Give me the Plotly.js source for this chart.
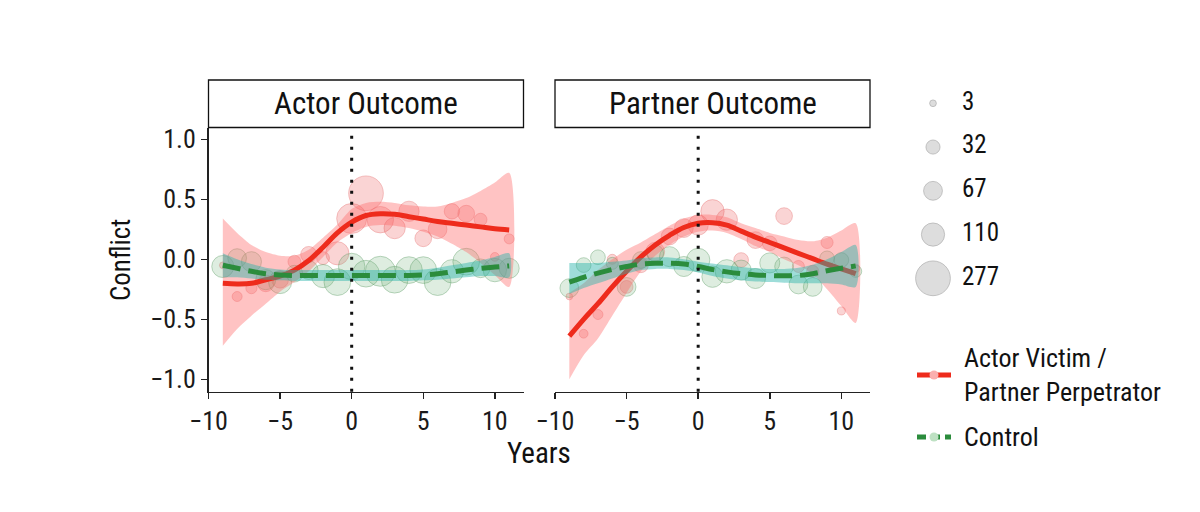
<!DOCTYPE html>
<html>
<head>
<meta charset="utf-8">
<script src="https://cdn.plot.ly/plotly-3.0.1.min.js"></script>
<style>
  html, body { margin: 0; padding: 0; background: #fff; }
  #chart { width: 1200px; height: 512px; }
</style>
</head>
<body>
<div id="chart"></div>
<script>
// years relative to the event
const years = [-9, -8, -7, -6, -5, -4, -3, -2, -1, 0, 1, 2, 3, 4, 5, 6, 7, 8, 9, 10, 11];

// Actor outcome: yearly means (bubbles) and n per year
const actorVictimMean = [-0.05, -0.31, -0.24, -0.2, -0.17, -0.02, 0.04, 0.01, 0.05, 0.34, 0.55, 0.33, 0.26, 0.4, 0.175, 0.25, 0.4, 0.38, 0.33, 0.02, 0.17];
const actorVictimN = [3, 12, 17, 50, 50, 25, 45, 25, 110, 200, 277, 150, 90, 80, 50, 66, 40, 50, 25, 8, 12];
const actorControlMean = [-0.06, 0.01, -0.02, -0.17, -0.19, -0.12, -0.09, -0.14, -0.19, -0.06, -0.12, -0.1, -0.17, -0.09, -0.09, -0.19, -0.1, -0.02, -0.075, -0.09, -0.075];
const actorControlN = [98, 66, 78, 78, 108, 50, 66, 110, 153, 150, 153, 200, 153, 153, 153, 153, 112, 153, 66, 112, 78];

// Actor outcome: smoothed fits and confidence bands
const actorVictimFit = [-0.2, -0.205, -0.2, -0.17, -0.14, -0.09, -0.01, 0.1, 0.22, 0.31, 0.365, 0.38, 0.375, 0.355, 0.335, 0.315, 0.3, 0.285, 0.27, 0.255, 0.245];
const actorVictimLo = [-0.72, -0.58, -0.47, -0.37, -0.27, -0.19, -0.1, 0.02, 0.14, 0.22, 0.27, 0.285, 0.28, 0.26, 0.23, 0.19, 0.13, 0.06, -0.03, -0.13, -0.23];
const actorVictimHi = [0.34, 0.22, 0.12, 0.06, 0.03, 0.03, 0.08, 0.18, 0.29, 0.42, 0.47, 0.48, 0.47, 0.45, 0.44, 0.44, 0.47, 0.51, 0.57, 0.64, 0.72];
const actorControlFit = [-0.05, -0.075, -0.1, -0.12, -0.13, -0.135, -0.135, -0.135, -0.135, -0.135, -0.135, -0.135, -0.135, -0.135, -0.13, -0.12, -0.105, -0.09, -0.075, -0.065, -0.055];
const actorControlLo = [-0.15, -0.15, -0.16, -0.17, -0.175, -0.18, -0.18, -0.18, -0.18, -0.18, -0.18, -0.18, -0.18, -0.18, -0.175, -0.17, -0.16, -0.15, -0.14, -0.14, -0.15];
const actorControlHi = [0.05, 0.0, -0.04, -0.07, -0.085, -0.09, -0.09, -0.09, -0.09, -0.09, -0.09, -0.09, -0.09, -0.09, -0.085, -0.07, -0.05, -0.03, -0.01, 0.02, 0.05];

// Partner outcome
const partnerVictimMean = [-0.31, -0.62, -0.46, 0.0, -0.23, -0.05, 0.064, 0.19, 0.26, 0.286, 0.4, 0.33, -0.006, 0.16, 0.133, 0.36, -0.06, -0.1, 0.14, -0.43, -0.075];
const partnerVictimN = [3, 8, 12, 12, 25, 36, 66, 50, 66, 80, 112, 90, 36, 50, 36, 50, 21, 21, 21, 6, 6];
const partnerControlMean = [-0.24, -0.048, 0.017, -0.034, -0.23, -0.006, 0.05, 0.022, -0.06, -0.006, -0.145, -0.1, -0.09, -0.16, -0.03, -0.06, -0.21, -0.23, 0.008, -0.006, -0.1];
const partnerControlN = [66, 36, 36, 21, 66, 50, 50, 78, 78, 112, 90, 112, 78, 78, 78, 66, 66, 66, 36, 36, 21];

const partnerVictimFit = [-0.64, -0.5, -0.37, -0.23, -0.1, 0.02, 0.12, 0.2, 0.265, 0.3, 0.305, 0.285, 0.235, 0.185, 0.14, 0.095, 0.05, 0.005, -0.04, -0.08, -0.12];
const partnerVictimLo = [-1.0, -0.8, -0.66, -0.47, -0.28, -0.1, 0.03, 0.12, 0.19, 0.23, 0.24, 0.22, 0.17, 0.11, 0.06, 0.0, -0.05, -0.12, -0.25, -0.39, -0.53];
const partnerVictimHi = [-0.28, -0.2, -0.09, 0.0, 0.08, 0.14, 0.21, 0.28, 0.34, 0.37, 0.37, 0.35, 0.3, 0.26, 0.22, 0.19, 0.16, 0.15, 0.18, 0.24, 0.3];
const partnerControlFit = [-0.19, -0.15, -0.115, -0.085, -0.06, -0.04, -0.033, -0.033, -0.04, -0.06, -0.085, -0.105, -0.12, -0.13, -0.135, -0.138, -0.135, -0.12, -0.095, -0.075, -0.055];
const partnerControlLo = [-0.29, -0.24, -0.2, -0.16, -0.12, -0.09, -0.08, -0.08, -0.09, -0.11, -0.14, -0.16, -0.175, -0.185, -0.19, -0.195, -0.2, -0.2, -0.2, -0.21, -0.23];
const partnerControlHi = [-0.03, -0.03, -0.03, -0.02, -0.01, 0.01, 0.015, 0.015, 0.0, -0.02, -0.035, -0.05, -0.065, -0.075, -0.08, -0.08, -0.07, -0.045, 0.0, 0.06, 0.12];

const panelTitles = ["Actor Outcome", "Partner Outcome"];
const xTicks = [-10, -5, 0, 5, 10];
const yTicks = [-1, -0.5, 0, 0.5, 1];
const sizeLegendN = [3, 32, 67, 110, 277];
const groupNames = ["Actor Victim /<br>Partner Perpetrator", "Control"];
const eventYear = 0;

const FONT = "'Liberation Sans Narrow', 'Arial Narrow', 'Roboto Condensed', 'DejaVu Sans Condensed', sans-serif";
const RED = "#ee2b1c";
const GREEN = "#2b8c3c";

// ggplot-like size scale (diameter in px)
const bubbleSize = n => 3.44 + 1.88 * Math.sqrt(n);

const W = 1200, H = 512;
const leftDomain = [208.5 / W, 523.5 / W];
const rightDomain = [555 / W, 870 / W];
const yDomain = [1 - 391.7 / H, 1 - 127.5 / H];
const stripTop = 1 - 80 / H;

function bubbles(mean, n, xa, ya, fill, edge) {
  return {
    x: years, y: mean, xaxis: xa, yaxis: ya, mode: "markers", type: "scatter",
    marker: { size: n.map(bubbleSize), sizemode: "diameter", color: fill, line: { color: edge, width: 1 } },
    cliponaxis: false, hoverinfo: "skip"
  };
}

function band(lo, hi, xa, ya, fill) {
  return {
    x: years.concat(years.slice().reverse()),
    y: hi.concat(lo.slice().reverse()),
    xaxis: xa, yaxis: ya, mode: "lines", type: "scatter", fill: "toself", fillcolor: fill,
    line: { width: 0, color: "rgba(0,0,0,0)", shape: "spline", smoothing: 0.8 },
    hoverinfo: "skip"
  };
}

function fit(y, xa, ya, color, dash) {
  return {
    x: years, y: y, xaxis: xa, yaxis: ya, mode: "lines", type: "scatter",
    line: { color: color, width: 5, shape: "spline", smoothing: 1, dash: dash },
    hoverinfo: "skip"
  };
}

const redFill = "rgba(240,90,90,0.37)", redEdge = "rgba(225,80,80,0.45)";
const greenFill = "rgba(115,180,125,0.33)", greenEdge = "rgba(80,150,90,0.55)";
const redBand = "rgba(255,105,105,0.4)", tealBand = "rgba(40,180,170,0.45)";
const greenDash = "18px,8px";

const traces = [
  bubbles(actorVictimMean, actorVictimN, "x", "y", redFill, redEdge),
  bubbles(actorControlMean, actorControlN, "x", "y", greenFill, greenEdge),
  band(actorVictimLo, actorVictimHi, "x", "y", redBand),
  fit(actorVictimFit, "x", "y", RED, "solid"),
  band(actorControlLo, actorControlHi, "x", "y", tealBand),
  fit(actorControlFit, "x", "y", GREEN, greenDash),

  bubbles(partnerVictimMean, partnerVictimN, "x2", "y2", redFill, redEdge),
  bubbles(partnerControlMean, partnerControlN, "x2", "y2", greenFill, greenEdge),
  band(partnerVictimLo, partnerVictimHi, "x2", "y2", redBand),
  fit(partnerVictimFit, "x2", "y2", RED, "solid"),
  band(partnerControlLo, partnerControlHi, "x2", "y2", tealBand),
  fit(partnerControlFit, "x2", "y2", GREEN, greenDash),

  // size legend
  {
    x: sizeLegendN.map(() => 0), y: sizeLegendN.map(String), xaxis: "x3", yaxis: "y3",
    mode: "markers", type: "scatter", cliponaxis: false, hoverinfo: "skip",
    marker: { size: sizeLegendN.map(bubbleSize), sizemode: "diameter", color: "rgba(170,170,170,0.55)", line: { color: "rgba(140,140,140,0.7)", width: 1 } }
  },
  {
    x: sizeLegendN.map(() => 1), y: sizeLegendN.map(String), xaxis: "x3", yaxis: "y3",
    mode: "text", type: "scatter", text: sizeLegendN.map(String), textposition: "middle right",
    textfont: { family: FONT, size: 25, color: "#111" }, cliponaxis: false, hoverinfo: "skip"
  }
];

const axisBase = {
  range: [-10, 12], tickvals: xTicks, showgrid: false, zeroline: false,
  showline: true, linecolor: "#222", linewidth: 1.5,
  ticks: "outside", ticklen: 6, tickwidth: 1.5, tickcolor: "#222",
  tickfont: { family: FONT, size: 26, color: "#1a1a1a" }
};
const yBase = {
  domain: yDomain, range: [-1.103, 1.098], tickvals: yTicks, tickformat: ".1f",
  showgrid: false, zeroline: false,
  tickfont: { family: FONT, size: 26, color: "#1a1a1a" }
};

const domains = [leftDomain, rightDomain];
const shapes = [];
const annotations = [];
domains.forEach((d, i) => {
  shapes.push({ type: "rect", xref: "paper", yref: "paper", x0: d[0], x1: d[1], y0: yDomain[1], y1: stripTop,
    line: { color: "#111", width: 1.3 }, fillcolor: "rgba(0,0,0,0)" });
  annotations.push({ xref: "paper", yref: "paper", x: (d[0] + d[1]) / 2, y: (yDomain[1] + stripTop) / 2,
    text: panelTitles[i], showarrow: false, xanchor: "center", yanchor: "middle",
    font: { family: FONT, size: 31, color: "#111" } });
  shapes.push({ type: "line", xref: i === 0 ? "x" : "x2", yref: "paper", x0: eventYear, x1: eventYear,
    y0: yDomain[0], y1: yDomain[1], line: { color: "#111", width: 3, dash: "3px,8px" } });
});

// axis titles
annotations.push({ xref: "paper", yref: "paper", x: (leftDomain[0] + rightDomain[1]) / 2, y: 1 - 453 / H,
  text: "Years", showarrow: false, xanchor: "center", yanchor: "middle", font: { family: FONT, size: 29, color: "#111" } });
annotations.push({ xref: "paper", yref: "paper", x: 121 / W, y: 1 - 260 / H, textangle: -90,
  text: "Conflict", showarrow: false, xanchor: "center", yanchor: "middle", font: { family: FONT, size: 27, color: "#111" } });

// colour legend keys
const keyX0 = 917 / W, keyX1 = 951 / W, keyMid = 934 / W;
const keyRows = [1 - 375 / H, 1 - 437 / H];
const keyColors = [RED, GREEN];
const keyDots = ["rgba(250,175,175,1)", "rgba(190,225,195,1)"];
const keyDash = ["solid", "9px,5px"];
keyRows.forEach((yk, i) => {
  shapes.push({ type: "line", xref: "paper", yref: "paper", x0: keyX0, x1: keyX1, y0: yk, y1: yk,
    line: { color: keyColors[i], width: 5, dash: keyDash[i] } });
  shapes.push({ type: "circle", xref: "paper", yref: "paper",
    x0: keyMid - 4.5 / W, x1: keyMid + 4.5 / W, y0: yk - 4.5 / H, y1: yk + 4.5 / H,
    fillcolor: keyDots[i], line: { color: keyDots[i], width: 0 } });
  annotations.push({ xref: "paper", yref: "paper", x: 962 / W, y: yk, text: groupNames[i],
    showarrow: false, xanchor: "left", yanchor: "middle", align: "left",
    font: { family: FONT, size: 26, color: "#111" } });
});

const layout = {
  width: W, height: H, margin: { l: 0, r: 0, t: 0, b: 0 },
  paper_bgcolor: "#fff", plot_bgcolor: "rgba(0,0,0,0)", showlegend: false,
  xaxis: Object.assign({}, axisBase, { domain: leftDomain, anchor: "y" }),
  xaxis2: Object.assign({}, axisBase, { domain: rightDomain, anchor: "y2" }),
  yaxis: Object.assign({}, yBase, { anchor: "x", showline: true, linecolor: "#222", linewidth: 1.5,
    ticks: "outside", ticklen: 6, tickwidth: 1.5, tickcolor: "#222" }),
  yaxis2: Object.assign({}, yBase, { anchor: "x2", showline: false, ticks: "", showticklabels: false }),
  xaxis3: { domain: [933 / W, 962 / W], range: [0, 1], visible: false, anchor: "y3" },
  yaxis3: { domain: [1 - 300.2 / H, 1 - 81.4 / H], type: "category", range: [4.5, -0.5], visible: false, anchor: "x3" },
  shapes: shapes,
  annotations: annotations
};

Plotly.newPlot("chart", traces, layout, { staticPlot: true });
</script>
</body>
</html>
